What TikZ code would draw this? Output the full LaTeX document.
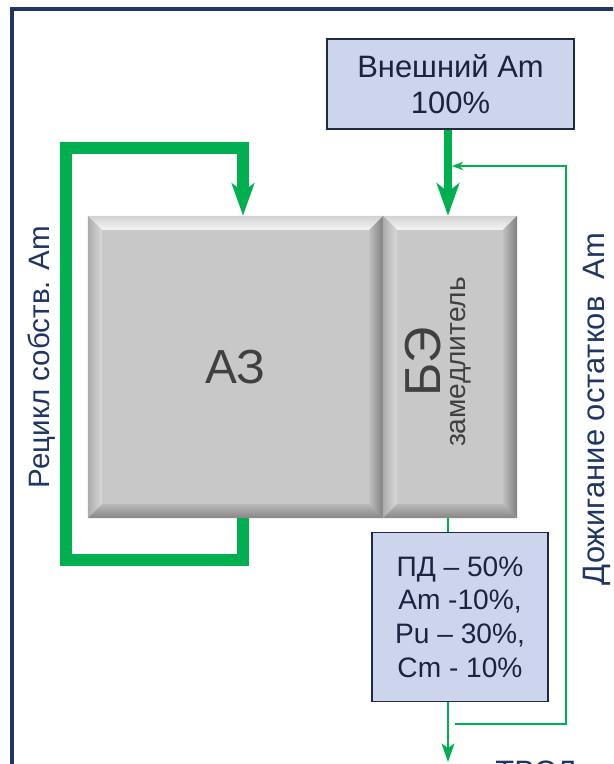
\documentclass[tikz,border=0pt]{standalone}
\usepackage{fontspec}
\setmainfont{Liberation Sans}
\usepackage{tikz}
\usetikzlibrary{arrows.meta, positioning, calc}
\usepackage{xcolor}
\definecolor{flowgreen}{HTML}{00B050}
\definecolor{framenavy}{HTML}{1F3564}
\definecolor{boxfill}{HTML}{CDD5EC}
\definecolor{boxline}{HTML}{1F2A4A}
\definecolor{boxtext}{HTML}{1C2340}
\definecolor{blockgray}{HTML}{C8C8C8}
\definecolor{blocktext}{HTML}{404040}

\tikzset{
  bevel/.style={fill=blockgray, inner sep=0pt, text=blocktext, path picture={
    \path (path picture bounding box.north west) coordinate (bnw)
          (path picture bounding box.north east) coordinate (bne)
          (path picture bounding box.south east) coordinate (bse)
          (path picture bounding box.south west) coordinate (bsw);
    \shade[top color=gray!35, bottom color=gray!8] (bnw) -- (bne) -- ([shift={(-14,14)}]bne) -- ([shift={(14,14)}]bnw) -- cycle;
    \shade[left color=gray!65, right color=gray!30] (bnw) -- ([shift={(14,14)}]bnw) -- ([shift={(14,-14)}]bsw) -- (bsw) -- cycle;
    \shade[left color=gray!50, right color=gray!100] (bne) -- (bse) -- ([shift={(-14,-14)}]bse) -- ([shift={(-14,14)}]bne) -- cycle;
    \shade[top color=gray!55, bottom color=gray!95] (bsw) -- (bse) -- ([shift={(-14,-14)}]bse) -- ([shift={(14,-14)}]bsw) -- cycle;
  }},
  infobox/.style={draw=boxline, line width=1.2pt, fill=boxfill, text=boxtext, align=center, inner sep=0pt},
  sidelabel/.style={text=framenavy, rotate=90, font=\fontsize{21}{24}\selectfont},
  bigflow/.style={draw=flowgreen, line width=#1, -{Stealth[length=23pt, width=16pt, inset=6pt]}},
  thinflow/.style={draw=flowgreen, line width=1.5pt},
}

\begin{document}
\begin{tikzpicture}[x=0.025cm, y=-0.025cm]
  \useasboundingbox (0,0) rectangle (613,764);
  \clip (0,0) rectangle (613,764);
  \draw[framenavy, line width=2.2pt] (12,9) rectangle (660,820);

  \node[bevel, minimum width=7.375cm, minimum height=7.55cm, font=\fontsize{34}{38}\selectfont] (az) at (235.5,367) {АЗ};
  \node[bevel, minimum width=3.35cm, minimum height=7.55cm] (be) at (450,367) {};
  \node[rotate=90, text=blocktext, font=\fontsize{36}{40}\selectfont] (belbl) at (423,362) {БЭ};
  \node[rotate=90, text=blocktext, font=\fontsize{20}{22}\selectfont] (modlbl) at (461,362) {замедлитель};

  \node[infobox, minimum width=6.175cm, minimum height=2.25cm, font=\fontsize{22}{25.5}\selectfont] (ext) at (450.5,84) {Внешний Am\\100\%};
  \node[infobox, minimum width=4.4cm, minimum height=4.225cm, font=\fontsize{20}{24}\selectfont] (pd) at (460,617) {ПД – 50\%\\Am -10\%,\\Pu – 30\%,\\Cm - 10\%};

  \coordinate (axis) at (448,0);
  \coordinate (lp) at (243,0);
  \coordinate (fbstart) at (455,724);
  \coordinate (fbend) at (452,166);
  \coordinate (out) at (448,762);

  % recycle loop and external feed
  \draw[bigflow=8.5pt] (lp |- az.south) -- ++(0,42) -| (66,148) -| (lp |- az.north);
  \draw[bigflow=5.7pt] (axis |- ext.south) -- (axis |- be.north);
  % feedback of remaining Am
  \draw[thinflow, -{Stealth[length=8pt, width=6pt]}] (fbstart) -- (566,724) -- (566,166) -- (fbend);
  \draw[thinflow, line width=2pt] (axis |- be.south) -- (axis |- pd.north);
  \draw[thinflow, line width=2pt, -{Stealth[length=13pt, width=9pt, inset=3pt]}] (axis |- pd.south) -- (out);

  \node[sidelabel] (reclbl) at (42,357) {Рецикл собств. Am};
  \node[sidelabel, font=\fontsize{22}{24}\selectfont] (burnlbl) at (597,409) {Дожигание остатков\ \ Am};
  \node[anchor=base, text=framenavy, font=\fontsize{22}{25}\selectfont] (tvel) at (536,782.5) {ТВЭЛ};
\end{tikzpicture}
\end{document}
